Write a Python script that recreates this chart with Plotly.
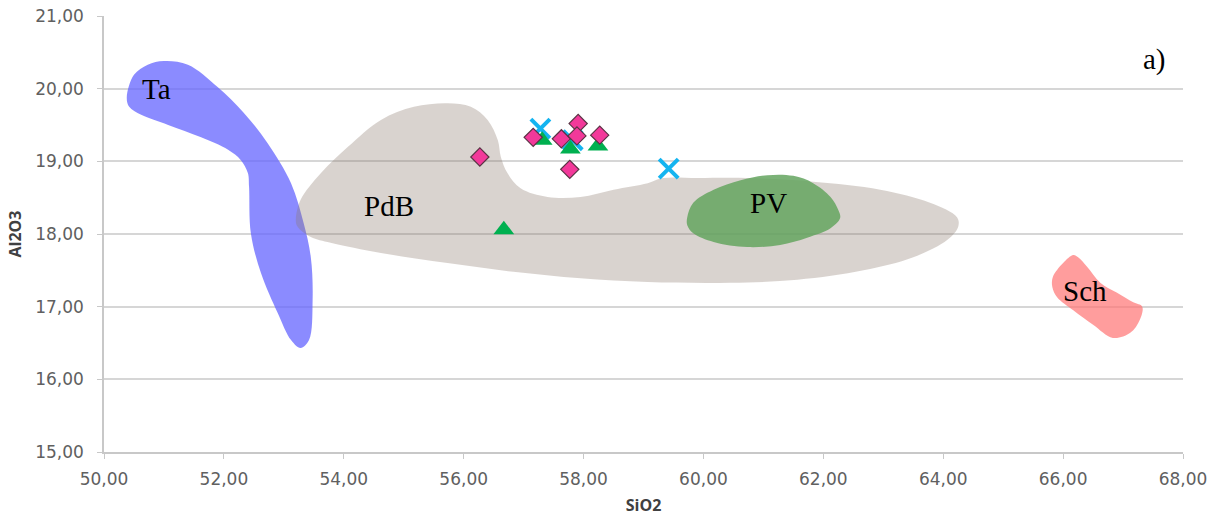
import plotly.graph_objects as go

# Sample analyses (SiO2 wt%, Al2O3 wt%)
diamond_sio2 = [56.27, 57.16, 57.63, 57.91, 57.89, 58.27, 57.77]
diamond_al2o3 = [19.06, 19.33, 19.31, 19.52, 19.35, 19.36, 18.89]

triangle_sio2 = [57.31, 57.78, 58.24, 56.67]
triangle_al2o3 = [19.29, 19.17, 19.21, 18.06]

cross_sio2 = [57.28, 57.82, 59.42]
cross_al2o3 = [19.45, 19.29, 18.90]

# Reference fields (outline vertices in SiO2 / Al2O3 units)
ta_sio2 = [50.38, 50.50, 50.73, 51.00, 51.40, 51.90, 52.33, 52.73, 53.12, 53.33,
           53.45, 53.48, 53.42, 53.28, 53.12, 52.90, 52.62, 52.45, 52.42, 52.40,
           52.28, 52.07, 51.62, 51.07, 50.62, 50.42]
ta_al2o3 = [19.88, 20.19, 20.33, 20.38, 20.33, 20.02, 19.67, 19.25, 18.70, 18.15,
            17.68, 17.09, 16.54, 16.43, 16.54, 16.91, 17.46, 18.01, 18.65, 18.84,
            19.02, 19.16, 19.33, 19.50, 19.64, 19.75]

pdb_sio2 = [53.20, 53.28, 53.62, 54.07, 54.62, 55.17, 55.73, 56.12, 56.40, 56.57,
            56.62, 56.73, 56.95, 57.40, 57.95, 58.50, 59.07, 59.33, 59.90, 60.73,
            61.83, 62.95, 63.78, 64.23, 64.25, 64.07, 63.50, 62.67, 61.57, 60.45,
            59.07, 57.95, 56.83, 55.73, 54.62, 53.78, 53.45, 53.23]
pdb_al2o3 = [18.19, 18.47, 18.84, 19.20, 19.57, 19.75, 19.80, 19.75, 19.57, 19.29,
             19.06, 18.84, 18.63, 18.51, 18.51, 18.61, 18.70, 18.77, 18.77, 18.77,
             18.72, 18.61, 18.43, 18.23, 18.10, 17.92, 17.68, 17.50, 17.37, 17.33,
             17.34, 17.39, 17.48, 17.60, 17.74, 17.88, 17.96, 18.10]

pv_sio2 = [59.73, 59.83, 60.17, 60.62, 61.07, 61.50, 61.83, 62.12, 62.25, 62.28,
           62.12, 61.73, 61.28, 60.73, 60.17, 59.83, 59.73]
pv_al2o3 = [18.23, 18.43, 18.61, 18.74, 18.81, 18.80, 18.70, 18.51, 18.33, 18.22,
            18.08, 17.95, 17.85, 17.82, 17.89, 18.01, 18.12]

sch_sio2 = [66.17, 66.00, 65.83, 65.82, 65.90, 66.17, 66.50, 66.83, 67.12, 67.28,
            67.32, 67.17, 66.90, 66.62, 66.40, 66.25]
sch_al2o3 = [17.71, 17.60, 17.41, 17.27, 17.13, 16.95, 16.75, 16.57, 16.64, 16.82,
             17.00, 17.06, 17.19, 17.33, 17.55, 17.68]

# Field labels
label_text = ["Ta", "PdB", "PV", "Sch", "a)"]
label_sio2 = [50.87, 54.75, 61.08, 66.37, 67.53]
label_al2o3 = [19.99, 18.39, 18.42, 17.21, 20.40]

x_ticks = [50, 52, 54, 56, 58, 60, 62, 64, 66, 68]
y_ticks = [15, 16, 17, 18, 19, 20, 21]


def closed(xs, ys):
    return xs + xs[:1], ys + ys[:1]


def field(xs, ys, color):
    cx, cy = closed(xs, ys)
    return go.Scatter(x=cx, y=cy, mode="lines", fill="toself", fillcolor=color,
                      line=dict(width=0, shape="spline", smoothing=1.0, color=color),
                      hoverinfo="skip", showlegend=False)


fig = go.Figure()
fig.add_trace(field(ta_sio2, ta_al2o3, "rgba(100,100,255,0.75)"))
fig.add_trace(field(pdb_sio2, pdb_al2o3, "rgba(140,120,110,0.33)"))
fig.add_trace(field(pv_sio2, pv_al2o3, "rgba(100,165,95,0.85)"))
fig.add_trace(field(sch_sio2, sch_al2o3, "rgba(255,115,115,0.7)"))

fig.add_trace(go.Scatter(
    x=cross_sio2, y=cross_al2o3, mode="markers", showlegend=False,
    marker=dict(symbol="x-thin", size=19, line=dict(width=4, color="#14B4F0"))))
fig.add_trace(go.Scatter(
    x=triangle_sio2, y=triangle_al2o3, mode="markers", showlegend=False,
    marker=dict(symbol="triangle-up", size=18, color="#00B050", line=dict(width=0))))
fig.add_trace(go.Scatter(
    x=diamond_sio2, y=diamond_al2o3, mode="markers", showlegend=False,
    marker=dict(symbol="diamond", size=14, color="#F2399A",
                line=dict(width=1.2, color="#5A3344"))))

for t, xv, yv in zip(label_text, label_sio2, label_al2o3):
    fig.add_annotation(x=xv, y=yv, text=t, showarrow=False,
                       font=dict(family="Liberation Serif", size=29, color="black"))

axis_font = dict(family="DejaVu Sans", size=17, color="#606060")
title_font = dict(family="Open Sans", size=16, color="#404040")
fig.update_xaxes(range=[50, 68], tickvals=x_ticks, tickformat=".2f",
                 showgrid=False, zeroline=False, showline=True, linecolor="#C8C8C8",
                 linewidth=1.5, ticks="outside", ticklen=5, tickcolor="#C8C8C8",
                 tickfont=axis_font, ticklabelstandoff=6, automargin=False,
                 title=dict(text="<b>SiO2</b>", standoff=12, font=title_font))
fig.update_yaxes(range=[15, 21], tickvals=y_ticks, tickformat=".2f",
                 showgrid=True, gridcolor="#D6D6D6", gridwidth=1.5,
                 zeroline=False, showline=True, linecolor="#C8C8C8", linewidth=1.5,
                 ticks="outside", ticklen=5, tickcolor="#C8C8C8",
                 tickfont=axis_font, ticklabelstandoff=10, automargin=False,
                 title=dict(text="<b>Al2O3</b>", standoff=10, font=title_font))

fig.update_layout(width=1229, height=518, separators=", ",
                  margin=dict(l=104, r=46, t=16, b=66),
                  plot_bgcolor="white", paper_bgcolor="white", showlegend=False)

fig.write_html("out.html")
